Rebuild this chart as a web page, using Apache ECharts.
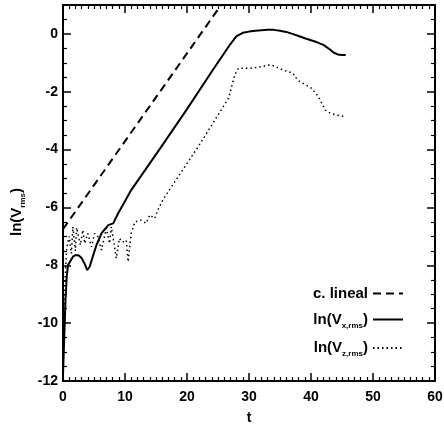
<!DOCTYPE html>
<html><head><meta charset="utf-8">
<script src="https://cdn.jsdelivr.net/npm/echarts@6/dist/echarts.min.js"></script>
<style>html,body{margin:0;padding:0;background:#fff}#c{width:444px;height:424px}</style>
</head><body><div id="c"></div>
<script>
var tLineal = [0, 25.5];
var vLineal = [-6.75, 1.0];

var tX = [0, 0.2, 0.4, 0.6, 0.8, 1.2, 1.6, 2.0, 2.5, 3.0, 3.5, 3.9, 4.3, 4.8, 5.4, 6.2, 7.3, 8.1, 8.9, 9.95, 11, 15.7, 20, 24, 27, 27.5, 28, 29, 30, 31, 32, 33, 34, 35, 36, 37, 38, 39, 40, 41, 42, 43, 43.7, 44.3, 45, 45.6];
var vX = [-11.8, -10.5, -9.2, -8.4, -8.0, -7.85, -7.7, -7.65, -7.65, -7.75, -7.95, -8.17, -8.05, -7.7, -7.3, -6.9, -6.61, -6.55, -6.2, -5.8, -5.4, -3.95, -2.6, -1.3, -0.35, -0.21, -0.08, 0.04, 0.08, 0.11, 0.13, 0.14, 0.14, 0.11, 0.07, 0.0, -0.07, -0.15, -0.22, -0.29, -0.38, -0.53, -0.65, -0.71, -0.73, -0.73];

var tZ = [0, 0.3, 0.6, 1.0, 1.35, 1.6, 2.0, 2.2, 2.8, 3.2, 3.5, 4.0, 4.6, 5.1, 5.6, 6.2, 7.0, 7.5, 7.8, 8.6, 9.1, 9.6, 10.2, 10.5, 11.0, 11.6, 12.6, 13.4, 14.0, 14.8, 15.3, 16.1, 21.8, 26.7, 27.7, 28.3, 30.2, 32, 33.4, 33.9, 35.5, 37.1, 37.4, 38.2, 40.1, 41.2, 42.3, 43.1, 44, 45.5];
var vZ = [-10.6, -8.6, -7.4, -7.0, -7.59, -6.67, -7.5, -6.7, -7.3, -6.78, -7.24, -6.9, -7.36, -6.9, -7.0, -7.47, -6.72, -7.24, -6.67, -7.76, -7.07, -7.2, -7.13, -7.88, -6.9, -6.5, -6.44, -6.55, -6.26, -6.38, -6.09, -5.74, -3.9, -2.22, -1.42, -1.19, -1.19, -1.13, -1.07, -1.10, -1.25, -1.36, -1.48, -1.65, -1.88, -2.17, -2.63, -2.74, -2.8, -2.86];

var xTicks = [0, 10, 20, 30, 40, 50, 60];
var yTicks = [-12, -10, -8, -6, -4, -2, 0];

function pairs(t, v) { return t.map(function (x, i) { return [x, v[i]]; }); }

var FONT = 'Liberation Sans';
var black = '#000';
var subRich = {
  a: { fontFamily: FONT, fontWeight: 'bold', fontSize: 15, color: black, lineHeight: 20 },
  s: { fontFamily: FONT, fontWeight: 'bold', fontSize: 8, color: black, lineHeight: 20, verticalAlign: 'bottom', padding: [9, 0, 0, 0] }
};

function baseX(pos, showLabel) {
  return {
    type: 'value', position: pos, min: xTicks[0], max: xTicks[xTicks.length - 1], interval: 10,
    axisLine: { show: true, onZero: false, lineStyle: { color: black, width: 2 } },
    axisTick: { show: true, inside: true, length: 8, lineStyle: { color: black, width: 1.5 } },
    minorTick: { show: true, splitNumber: 10, length: 4, lineStyle: { color: black, width: 1.2 } },
    splitLine: { show: false }, minorSplitLine: { show: false },
    axisLabel: { show: showLabel, color: black, fontFamily: FONT, fontWeight: 'bold', fontSize: 14, margin: 9 }
  };
}
function baseY(pos, showLabel) {
  return {
    type: 'value', position: pos, min: yTicks[0], max: 1, interval: 2,
    axisLine: { show: true, onZero: false, lineStyle: { color: black, width: 2 } },
    axisTick: { show: true, inside: true, length: 8, lineStyle: { color: black, width: 1.5 } },
    minorTick: { show: true, splitNumber: 4, length: 4, lineStyle: { color: black, width: 1.2 } },
    splitLine: { show: false }, minorSplitLine: { show: false },
    axisLabel: { show: showLabel, showMaxLabel: false, color: black, fontFamily: FONT, fontWeight: 'bold', fontSize: 14, margin: 5 }
  };
}

var xb = baseX('bottom', true);
xb.name = 't'; xb.nameLocation = 'middle'; xb.nameGap = 30;
xb.nameTextStyle = { color: black, fontFamily: FONT, fontWeight: 'bold', fontSize: 14 };
var xt = baseX('top', false);
var yl = baseY('left', true);
yl.name = '{a|ln(V}{s|rms}{a|)}'; yl.nameLocation = 'middle'; yl.nameGap = 33;
yl.nameTextStyle = { rich: subRich, padding: [0, 38, 0, 0] };
var yr = baseY('right', false);

var names = { 'c. lineal': '{a|c. lineal}', 'lnx': '{a|ln(V}{s|x,rms}{a|)}', 'lnz': '{a|ln(V}{s|z,rms}{a|)}' };

var chart = echarts.init(document.getElementById('c'), null, { renderer: 'canvas' });
chart.setOption({
  animation: false,
  backgroundColor: '#fff',
  grid: { left: 63, right: 9, top: 5, bottom: 43, containLabel: false, outerBoundsMode: 'none' },
  xAxis: [xb, xt],
  yAxis: [yl, yr],
  legend: {
    orient: 'vertical', right: 35, top: 281, align: 'right', itemWidth: 30, itemHeight: 12, itemGap: 11,
    itemStyle: { opacity: 0 },
    formatter: function (n) { return names[n]; },
    textStyle: { rich: subRich },
    data: ['c. lineal', 'lnx', 'lnz']
  },
  series: [
    { name: 'c. lineal', type: 'line', data: pairs(tLineal, vLineal), symbol: 'none', clip: true,
      lineStyle: { color: black, width: 2, type: [8, 5] }, itemStyle: { color: black } },
    { name: 'lnx', type: 'line', data: pairs(tX, vX), symbol: 'none', clip: true,
      lineStyle: { color: black, width: 2 }, itemStyle: { color: black } },
    { name: 'lnz', type: 'line', data: pairs(tZ, vZ), symbol: 'none', clip: true,
      lineStyle: { color: black, width: 1.5, type: [1.5, 3] }, itemStyle: { color: black } }
  ]
});
</script></body></html>
